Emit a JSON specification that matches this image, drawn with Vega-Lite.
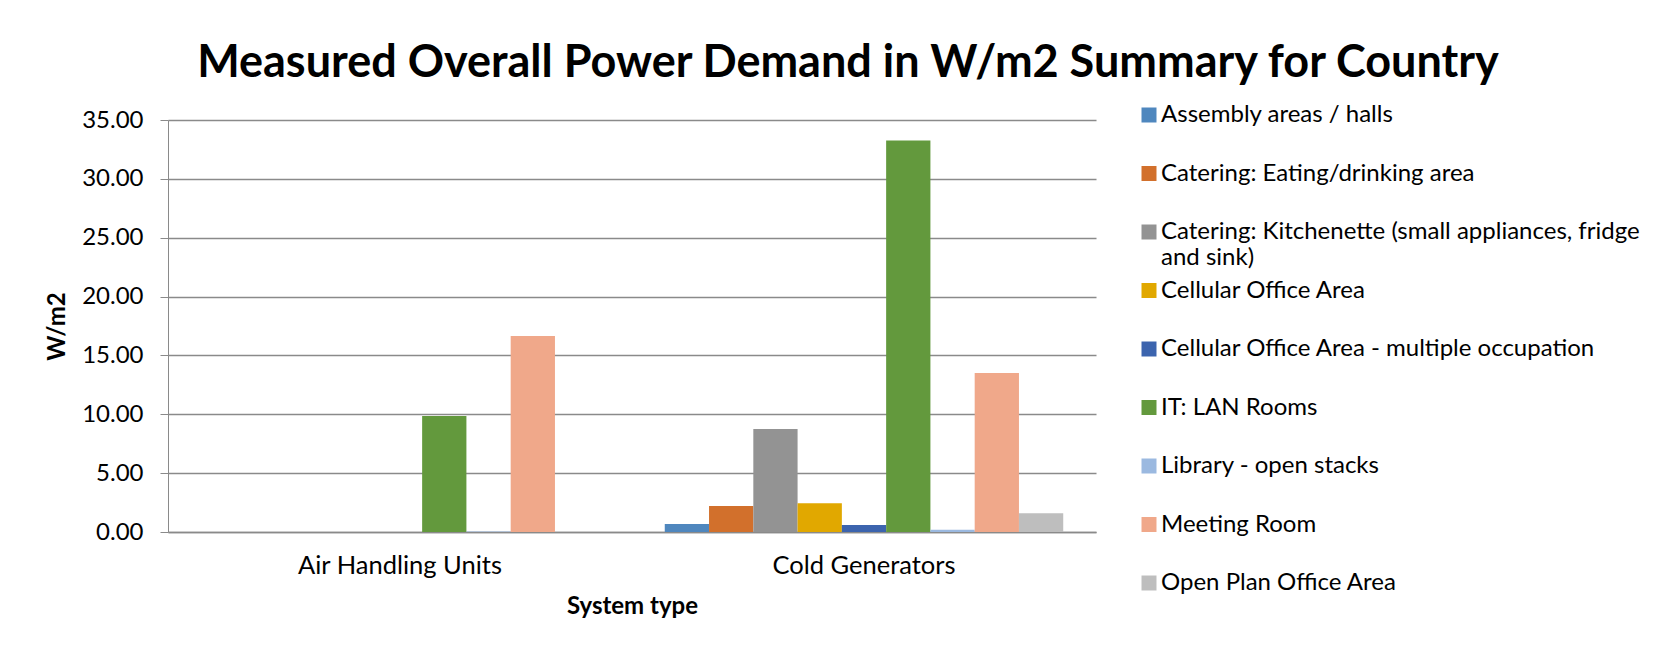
{
  "$schema": "https://vega.github.io/schema/vega-lite/v6.json",
  "autosize": {"type": "none"},
  "width": 928,
  "height": 412,
  "padding": {"left": 168, "top": 120, "right": 571, "bottom": 117},
  "background": "white",
  "title": {
    "text": "Measured Overall Power Demand in W/m2 Summary for Country",
    "font": "Lato",
    "fontSize": 45,
    "fontWeight": "bold",
    "color": "black",
    "anchor": "middle",
    "frame": "group",
    "dx": 216,
    "offset": 17
  },
  "data": {
    "values": [
      {"system": "Air Handling Units", "area": "Assembly areas / halls", "value": 0},
      {"system": "Air Handling Units", "area": "Catering: Eating/drinking area", "value": 0},
      {"system": "Air Handling Units", "area": "Catering: Kitchenette (small appliances, fridge and sink)", "value": 0},
      {"system": "Air Handling Units", "area": "Cellular Office Area", "value": 0},
      {"system": "Air Handling Units", "area": "Cellular Office Area - multiple occupation", "value": 0},
      {"system": "Air Handling Units", "area": "IT: LAN Rooms", "value": 9.85},
      {"system": "Air Handling Units", "area": "Library - open stacks", "value": 0.05},
      {"system": "Air Handling Units", "area": "Meeting Room", "value": 16.65},
      {"system": "Air Handling Units", "area": "Open Plan Office Area", "value": 0},
      {"system": "Cold Generators", "area": "Assembly areas / halls", "value": 0.68},
      {"system": "Cold Generators", "area": "Catering: Eating/drinking area", "value": 2.2},
      {"system": "Cold Generators", "area": "Catering: Kitchenette (small appliances, fridge and sink)", "value": 8.75},
      {"system": "Cold Generators", "area": "Cellular Office Area", "value": 2.45},
      {"system": "Cold Generators", "area": "Cellular Office Area - multiple occupation", "value": 0.6},
      {"system": "Cold Generators", "area": "IT: LAN Rooms", "value": 33.25},
      {"system": "Cold Generators", "area": "Library - open stacks", "value": 0.2},
      {"system": "Cold Generators", "area": "Meeting Room", "value": 13.5},
      {"system": "Cold Generators", "area": "Open Plan Office Area", "value": 1.6}
    ]
  },
  "mark": {"type": "bar"},
  "encoding": {
    "x": {
      "field": "system",
      "type": "nominal",
      "sort": ["Air Handling Units", "Cold Generators"],
      "scale": {"paddingInner": 0, "paddingOuter": 0},
      "title": "System type",
      "axis": {
        "labelAngle": 0,
        "ticks": false,
        "tickSize": 0,
        "labelLimit": 400,
        "domainColor": "#8a8a8a",
        "domainWidth": 1.5,
        "labelFont": "Lato",
        "labelFontSize": 25.5,
        "labelColor": "black",
        "labelPadding": 21,
        "titleFont": "Lato",
        "titleFontSize": 24,
        "titleFontWeight": "bold",
        "titleColor": "black",
        "titlePadding": 16
      }
    },
    "xOffset": {
      "field": "area",
      "type": "nominal",
      "sort": [
        "Assembly areas / halls",
        "Catering: Eating/drinking area",
        "Catering: Kitchenette (small appliances, fridge and sink)",
        "Cellular Office Area",
        "Cellular Office Area - multiple occupation",
        "IT: LAN Rooms",
        "Library - open stacks",
        "Meeting Room",
        "Open Plan Office Area"
      ],
      "scale": {"paddingInner": 0, "paddingOuter": 0.74}
    },
    "y": {
      "field": "value",
      "type": "quantitative",
      "scale": {"domain": [0, 35], "nice": false},
      "title": "W/m2",
      "axis": {
        "values": [0, 5, 10, 15, 20, 25, 30, 35],
        "format": ".2f",
        "domainColor": "#8a8a8a",
        "tickColor": "#8a8a8a",
        "tickSize": 8,
        "gridColor": "#8a8a8a",
        "gridWidth": 1.5,
        "labelFont": "Lato",
        "labelFontSize": 24,
        "labelColor": "black",
        "labelPadding": 17,
        "titleFont": "Lato",
        "titleFontSize": 24,
        "titleFontWeight": "bold",
        "titleColor": "black",
        "titlePadding": 12
      }
    },
    "color": {
      "field": "area",
      "type": "nominal",
      "scale": {
        "domain": [
          "Assembly areas / halls",
          "Catering: Eating/drinking area",
          "Catering: Kitchenette (small appliances, fridge and sink)",
          "Cellular Office Area",
          "Cellular Office Area - multiple occupation",
          "IT: LAN Rooms",
          "Library - open stacks",
          "Meeting Room",
          "Open Plan Office Area"
        ],
        "range": ["#4F87BE", "#D2702C", "#939393", "#E1A800", "#3C64AE", "#63993D", "#9BB9E0", "#F0A88A", "#BEBEBE"]
      },
      "legend": {
        "orient": "none",
        "legendX": 969,
        "legendY": -17,
        "title": null,
        "padding": 0,
        "symbolType": "square",
        "symbolSize": 225,
        "symbolStrokeWidth": 0,
        "labelFont": "Lato",
        "labelFontSize": 24,
        "labelColor": "black",
        "labelOffset": 0,
        "labelLimit": 700,
        "rowPadding": 8.5,
        "labelExpr": "datum.label == 'Catering: Kitchenette (small appliances, fridge and sink)' ? ['Catering: Kitchenette (small appliances, fridge', 'and sink)'] : [datum.label, '']"
      }
    }
  },
  "config": {"view": {"stroke": null}}
}
